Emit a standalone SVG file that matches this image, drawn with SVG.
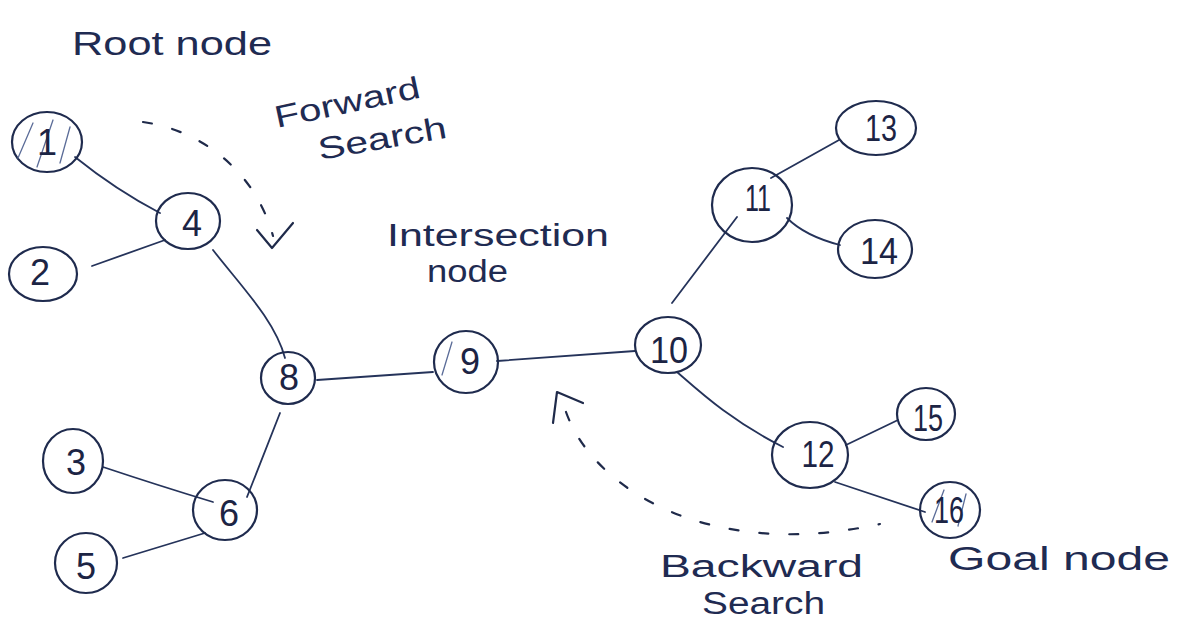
<svg xmlns="http://www.w3.org/2000/svg" width="1187" height="627" viewBox="0 0 1187 627">
  <style>
    .node ellipse { fill: none; stroke: #1f2b4e; stroke-width: 2.2; }
    .hatch { fill: none; stroke: #5b6c98; stroke-width: 1.3; stroke-linecap: round; }
    .num { font-family: "Liberation Sans", "DejaVu Sans", sans-serif; font-size: 36px; fill: #1c2444; text-anchor: middle; }
    .edge { fill: none; stroke: #25335a; stroke-width: 1.8; stroke-linecap: round; }
    .dash { fill: none; stroke: #1f2a4a; stroke-width: 2.2; stroke-linecap: round; stroke-dasharray: 9 21; }
    .head { fill: none; stroke: #1f2a4a; stroke-width: 2.2; stroke-linecap: round; stroke-linejoin: round; }
    .note { font-family: "Liberation Sans", "DejaVu Sans", sans-serif; font-size: 34px; fill: #1f2b52; }
    .note.small { font-size: 31px; }
  </style>
  <rect width="1187" height="627" fill="#ffffff"/>

  <!-- connectors -->
  <g id="connectors">
    <path class="edge" d="M75,157 Q116,190 160,213"/>
    <path class="edge" d="M92,266 L165,240"/>
    <path class="edge" d="M213,250 C240,285 275,320 285,358"/>
    <path class="edge" d="M317,380 L433,372"/>
    <path class="edge" d="M280,413 L247,497"/>
    <path class="edge" d="M103,467 Q160,486 213,502"/>
    <path class="edge" d="M123,558 L205,533"/>
    <path class="edge" d="M497,361 L635,351"/>
    <path class="edge" d="M672,303 L737,217"/>
    <path class="edge" d="M677,372 C700,392 730,420 783,447"/>
    <path class="edge" d="M771,178 L839,140"/>
    <path class="edge" d="M787,218 Q805,236 840,245"/>
    <path class="edge" d="M846,445 L898,420"/>
    <path class="edge" d="M835,482 L925,512"/>
  </g>

  <!-- search direction arrows -->
  <g id="forward-arrow">
    <path class="dash" d="M143,122 C200,130 255,170 273,236"/>
    <polyline class="head" points="257,230 272,248 293,223"/>
  </g>
  <g id="backward-arrow">
    <path class="dash" d="M566,412 C585,465 640,505 700,522 S820,537 880,524"/>
    <polyline class="head" points="553,423 557,392 583,403"/>
  </g>

  <!-- nodes -->
  <g id="node-1" class="node">
    <ellipse cx="47" cy="142" rx="35" ry="30"/>
    <path class="hatch" d="M18,158 L33,123 M37,167 L53,120 M60,163 L70,127"/>
    <text class="num" x="47" y="155">1</text>
  </g>
  <g id="node-2" class="node">
    <ellipse cx="43" cy="274" rx="34" ry="27"/>
    <text class="num" x="40" y="285">2</text>
  </g>
  <g id="node-3" class="node">
    <ellipse cx="73" cy="461" rx="30" ry="32"/>
    <text class="num" x="76" y="475">3</text>
  </g>
  <g id="node-4" class="node">
    <ellipse cx="188" cy="221" rx="32" ry="28"/>
    <text class="num" x="192" y="236">4</text>
  </g>
  <g id="node-5" class="node">
    <ellipse cx="86" cy="563" rx="31" ry="30"/>
    <text class="num" x="86" y="579">5</text>
  </g>
  <g id="node-6" class="node">
    <ellipse cx="225" cy="510" rx="32" ry="30"/>
    <text class="num" x="229" y="526">6</text>
  </g>
  <g id="node-8" class="node">
    <ellipse cx="288" cy="378" rx="27" ry="26"/>
    <text class="num" x="289" y="390">8</text>
  </g>
  <g id="node-9" class="node">
    <ellipse cx="466" cy="362" rx="32" ry="31"/>
    <path class="hatch" d="M442,375 L452,342"/>
    <text class="num" x="470" y="374">9</text>
  </g>
  <g id="node-10" class="node">
    <ellipse cx="668" cy="345" rx="33" ry="28"/>
    <text class="num" x="669" y="363" textLength="38" lengthAdjust="spacingAndGlyphs">10</text>
  </g>
  <g id="node-11" class="node">
    <ellipse cx="752" cy="205" rx="40" ry="37"/>
    <text class="num" x="758" y="211" textLength="26" lengthAdjust="spacingAndGlyphs">11</text>
  </g>
  <g id="node-12" class="node">
    <ellipse cx="810" cy="455" rx="38" ry="33"/>
    <text class="num" x="818" y="467" textLength="33" lengthAdjust="spacingAndGlyphs">12</text>
  </g>
  <g id="node-13" class="node">
    <ellipse cx="876" cy="128" rx="40" ry="27"/>
    <text class="num" x="881" y="141" textLength="32" lengthAdjust="spacingAndGlyphs">13</text>
  </g>
  <g id="node-14" class="node">
    <ellipse cx="875" cy="249" rx="37" ry="29"/>
    <text class="num" x="879" y="264" textLength="38" lengthAdjust="spacingAndGlyphs">14</text>
  </g>
  <g id="node-15" class="node">
    <ellipse cx="926" cy="414" rx="29" ry="26"/>
    <text class="num" x="928" y="431" textLength="30" lengthAdjust="spacingAndGlyphs">15</text>
  </g>
  <g id="node-16" class="node">
    <ellipse cx="950" cy="510" rx="30" ry="28"/>
    <path class="hatch" d="M932,522 L944,490 M958,526 L966,494"/>
    <text class="num" x="949" y="523" textLength="30" lengthAdjust="spacingAndGlyphs">16</text>
  </g>

  <!-- annotations -->
  <g id="labels">
    <text class="note" x="72" y="55" textLength="200" lengthAdjust="spacingAndGlyphs">Root node</text>
    <text class="note small" x="277" y="128" textLength="148" lengthAdjust="spacingAndGlyphs" transform="rotate(-12 277 128)">Forward</text>
    <text class="note small" x="320" y="160" textLength="130" lengthAdjust="spacingAndGlyphs" transform="rotate(-10 320 160)">Search</text>
    <text class="note small" x="387" y="246" textLength="222" lengthAdjust="spacingAndGlyphs">Intersection</text>
    <text class="note small" x="427" y="282" textLength="81" lengthAdjust="spacingAndGlyphs">node</text>
    <text class="note small" x="660" y="577" textLength="203" lengthAdjust="spacingAndGlyphs">Backward</text>
    <text class="note small" x="702" y="614" textLength="123" lengthAdjust="spacingAndGlyphs">Search</text>
    <text class="note" x="948" y="570" textLength="222" lengthAdjust="spacingAndGlyphs">Goal node</text>
  </g>
</svg>
